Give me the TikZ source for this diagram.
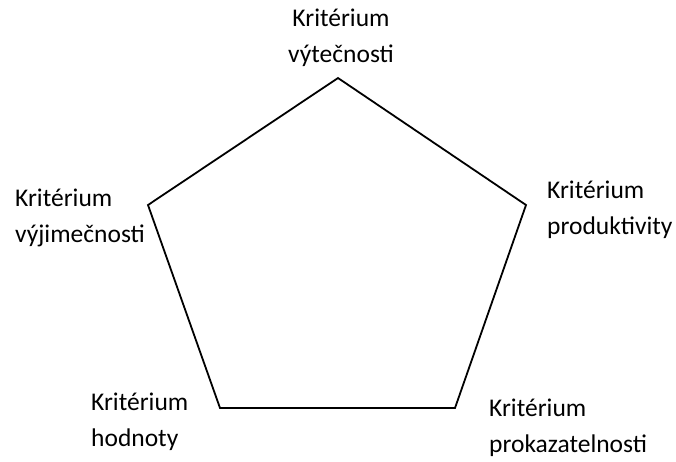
\documentclass[tikz,border=0pt]{standalone}
\usepackage{fontspec}
\setmainfont{Carlito}
\usepackage{tikz}
\usetikzlibrary{positioning}

\begin{document}
\begin{tikzpicture}[
  x=1pt,y=-1pt,
  crit/.style={font=\fontsize{25.5}{36}\selectfont,inner sep=0pt,align=left},
  edge/.style={line width=1.8pt,line join=miter},
]
\useasboundingbox (0,0) rectangle (676,461);
% pentagon corners
\coordinate (top) at (338,78);
\coordinate (right) at (526,205);
\coordinate (bright) at (455,408);
\coordinate (bleft) at (220,408);
\coordinate (left) at (148,205);
\draw[edge] (top) -- (right) -- (bright) -- (bleft) -- (left) -- cycle;
% criteria (anchored at baseline of last line)
\node[crit,align=center,anchor=base] (vytecnost) at (341,62) {Kritérium\\výtečnosti};
\node[crit,anchor=base west] (produktivita) at (547,234) {Kritérium\\produktivity};
\node[crit,anchor=base west] (prokazatelnost) at (489,452) {Kritérium\\prokazatelnosti};
\node[crit,anchor=base west] (hodnota) at (91,446) {Kritérium\\hodnoty};
\node[crit,anchor=base west] (vyjimecnost) at (15,242) {Kritérium\\výjimečnosti};
\end{tikzpicture}
\end{document}
